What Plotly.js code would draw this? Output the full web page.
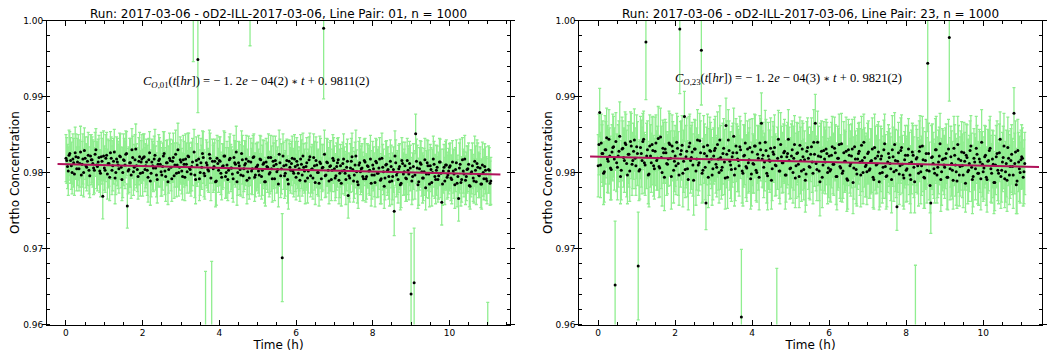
<!DOCTYPE html>
<html>
<head>
<meta charset="utf-8">
<script src="https://cdn.plot.ly/plotly-3.0.1.min.js"></script>
<style>html,body{margin:0;padding:0;background:#fff;}#chart{width:1048px;height:354px;}</style>
</head>
<body>
<div id="chart"></div>
<script>
// Measurement times (h), first set
const times = [
0,.04,.08,.12,.16,.2,.24,.28,.32,.36,.4,.44,.48,.52,.56,.6,.64,.68,.72,.76,.8,.84,.88,.92,.96,
1,1.04,1.08,1.12,1.16,1.2,1.24,1.28,1.32,1.36,1.4,1.44,1.48,1.52,1.56,1.6,1.64,1.68,1.72,1.76,1.8,1.84,1.88,1.92,1.96,
2,2.04,2.08,2.12,2.16,2.2,2.24,2.28,2.32,2.36,2.4,2.44,2.48,2.52,2.56,2.6,2.64,2.68,2.72,2.76,2.8,2.84,2.88,2.92,2.96,
3,3.04,3.08,3.12,3.16,3.2,3.24,3.28,3.32,3.36,3.4,3.44,3.48,3.52,3.56,3.6,3.64,3.68,3.72,3.76,3.8,3.84,3.88,3.92,3.96,
4,4.04,4.08,4.12,4.16,4.2,4.24,4.28,4.32,4.36,4.4,4.44,4.48,4.52,4.56,4.6,4.64,4.68,4.72,4.76,4.8,4.84,4.88,4.92,4.96,
5,5.04,5.08,5.12,5.16,5.2,5.24,5.28,5.32,5.36,5.4,5.44,5.48,5.52,5.56,5.6,5.64,5.68,5.72,5.76,5.8,5.84,5.88,5.92,5.96,
6,6.04,6.08,6.12,6.16,6.2,6.24,6.28,6.32,6.36,6.4,6.44,6.48,6.52,6.56,6.6,6.64,6.68,6.72,6.76,6.8,6.84,6.88,6.92,6.96,
7,7.04,7.08,7.12,7.16,7.2,7.24,7.28,7.32,7.36,7.4,7.44,7.48,7.52,7.56,7.6,7.64,7.68,7.72,7.76,7.8,7.84,7.88,7.92,7.96,
8,8.04,8.08,8.12,8.16,8.2,8.24,8.28,8.32,8.36,8.4,8.44,8.48,8.52,8.56,8.6,8.64,8.68,8.72,8.76,8.8,8.84,8.88,8.92,8.96,
9,9.04,9.08,9.12,9.16,9.2,9.24,9.28,9.32,9.36,9.4,9.44,9.48,9.52,9.56,9.6,9.64,9.68,9.72,9.76,9.8,9.84,9.88,9.92,9.96,
10,10.04,10.08,10.12,10.16,10.2,10.24,10.28,10.32,10.36,10.4,10.44,10.48,10.52,10.56,10.6,10.64,10.68,10.72,10.76,10.8,10.84,10.88,10.92,10.96,
11,11.04,11.08];
// Measurement times (h), interleaved set
const timesB = [
.02,.06,.1,.14,.18,.22,.26,.3,.34,.38,.42,.46,.5,.54,.58,.62,.66,.7,.74,.78,.82,.86,.9,.94,.98,
1.02,1.06,1.1,1.14,1.18,1.22,1.26,1.3,1.34,1.38,1.42,1.46,1.5,1.54,1.58,1.62,1.66,1.7,1.74,1.78,1.82,1.86,1.9,1.94,1.98,
2.02,2.06,2.1,2.14,2.18,2.22,2.26,2.3,2.34,2.38,2.42,2.46,2.5,2.54,2.58,2.62,2.66,2.7,2.74,2.78,2.82,2.86,2.9,2.94,2.98,
3.02,3.06,3.1,3.14,3.18,3.22,3.26,3.3,3.34,3.38,3.42,3.46,3.5,3.54,3.58,3.62,3.66,3.7,3.74,3.78,3.82,3.86,3.9,3.94,3.98,
4.02,4.06,4.1,4.14,4.18,4.22,4.26,4.3,4.34,4.38,4.42,4.46,4.5,4.54,4.58,4.62,4.66,4.7,4.74,4.78,4.82,4.86,4.9,4.94,4.98,
5.02,5.06,5.1,5.14,5.18,5.22,5.26,5.3,5.34,5.38,5.42,5.46,5.5,5.54,5.58,5.62,5.66,5.7,5.74,5.78,5.82,5.86,5.9,5.94,5.98,
6.02,6.06,6.1,6.14,6.18,6.22,6.26,6.3,6.34,6.38,6.42,6.46,6.5,6.54,6.58,6.62,6.66,6.7,6.74,6.78,6.82,6.86,6.9,6.94,6.98,
7.02,7.06,7.1,7.14,7.18,7.22,7.26,7.3,7.34,7.38,7.42,7.46,7.5,7.54,7.58,7.62,7.66,7.7,7.74,7.78,7.82,7.86,7.9,7.94,7.98,
8.02,8.06,8.1,8.14,8.18,8.22,8.26,8.3,8.34,8.38,8.42,8.46,8.5,8.54,8.58,8.62,8.66,8.7,8.74,8.78,8.82,8.86,8.9,8.94,8.98,
9.02,9.06,9.1,9.14,9.18,9.22,9.26,9.3,9.34,9.38,9.42,9.46,9.5,9.54,9.58,9.62,9.66,9.7,9.74,9.78,9.82,9.86,9.9,9.94,9.98,
10.02,10.06,10.1,10.14,10.18,10.22,10.26,10.3,10.34,10.38,10.42,10.46,10.5,10.54,10.58,10.62,10.66,10.7,10.74,10.78,10.82,10.86,10.9,10.94,10.98,
11.02,11.06];

// Line pair 01: ortho concentration and uncertainty, first set
const conc01 = [
.9819,.9808,.9823,.9816,.9800,.9813,.9826,.9805,.9820,.9812,.9797,.9818,.9829,.9809,.9815,.9803,.9822,.9817,.9806,.9824,.9810,.9814,.9802,.9821,.9769,
.9806,.9819,.9798,.9812,.9826,.9803,.9815,.9793,.9818,.9810,.9822,.9807,.9800,.9816,.9824,.9756,.9804,.9813,.9830,.9801,.9817,.9809,.9795,.9821,.9814,
.9800,.9821,.9809,.9803,.9817,.9789,.9814,.9806,.9823,.9797,.9811,.9818,.9801,.9808,.9825,.9795,.9813,.9804,.9816,.9792,.9820,.9810,.9799,.9830,.9807,
.9814,.9795,.9811,.9818,.9801,.9821,.9804,.9808,1.0018,.9797,.9816,.9949,.9792,.9813,.9825,.9799,.9580,.9810,.9802,.9819,.9595,.9805,.9815,.9789,.9812,
.9816,.9799,.9808,.9822,.9795,.9810,.9803,.9819,.9806,.9792,.9813,.9827,.9800,.9809,.9797,.9817,.9805,.9812,.9790,.9815,1.0030,.9802,.9820,.9794,.9807,
.9810,.9797,.9817,.9803,.9813,.9788,.9808,.9820,.9800,.9805,.9815,.9792,.9811,.9804,.9824,.9796,.9688,.9809,.9799,.9816,.9785,.9807,.9812,.9802,.9818,
.9794,.9810,.9805,.9818,.9797,.9807,.9789,.9813,.9802,.9821,.9804,.9793,.9809,.9816,.9800,.9786,.9812,.9806,.9990,.9796,.9814,.9803,.9808,.9791,.9819,
.9805,.9796,.9813,.9790,.9809,.9802,.9818,.9799,.9807,.9770,.9793,.9815,.9804,.9797,.9822,.9788,.9810,.9801,.9806,.9792,.9814,.9795,.9808,.9803,.9786,
.9810,.9797,.9815,.9799,.9806,.9790,.9819,.9801,.9793,.9811,.9804,.9788,.9808,.9795,.9749,.9813,.9800,.9805,.9784,.9816,.9798,.9809,.9792,.9803,.9812,
.9640,.9795,.9655,.9851,.9806,.9788,.9813,.9801,.9793,.9817,.9798,.9809,.9785,.9804,.9800,.9811,.9791,.9807,.9796,.9814,.9761,.9802,.9789,.9810,.9797,
.9807,.9793,.9814,.9798,.9804,.9786,.9766,.9811,.9791,.9802,.9818,.9795,.9805,.9783,.9799,.9809,.9789,.9803,.9812,.9797,.9806,.9785,.9800,.9808,.9792,
.9560,.9803,.9789];
const err01 = [
.0031,.0029,.0033,.0030,.0028,.0032,.0034,.0029,.0030,.0031,.0027,.0033,.0030,.0029,.0032,.0031,.0028,.0030,.0035,.0029,.0031,.0030,.0028,.0032,.0030,
.0029,.0031,.0033,.0030,.0028,.0032,.0030,.0034,.0029,.0031,.0030,.0027,.0033,.0029,.0031,.0029,.0030,.0032,.0028,.0031,.0033,.0029,.0030,.0032,.0028,
.0031,.0030,.0029,.0033,.0028,.0032,.0030,.0031,.0034,.0029,.0030,.0028,.0032,.0031,.0029,.0033,.0030,.0031,.0028,.0030,.0032,.0029,.0031,.0035,.0030,
.0029,.0031,.0030,.0033,.0028,.0031,.0029,.0032,.0072,.0030,.0031,.0070,.0029,.0032,.0030,.0031,.0090,.0030,.0028,.0033,.0088,.0031,.0029,.0032,.0030,
.0031,.0028,.0030,.0033,.0029,.0031,.0030,.0032,.0028,.0031,.0029,.0034,.0030,.0031,.0028,.0032,.0030,.0029,.0031,.0033,.0063,.0030,.0029,.0032,.0031,
.0030,.0028,.0031,.0033,.0029,.0032,.0030,.0031,.0028,.0030,.0033,.0029,.0031,.0030,.0032,.0029,.0058,.0031,.0030,.0028,.0033,.0031,.0029,.0030,.0032,
.0030,.0031,.0029,.0032,.0028,.0031,.0030,.0033,.0029,.0031,.0030,.0028,.0032,.0031,.0029,.0030,.0033,.0031,.0093,.0029,.0031,.0030,.0032,.0028,.0031,
.0030,.0029,.0032,.0031,.0028,.0030,.0033,.0029,.0031,.0030,.0032,.0030,.0029,.0031,.0034,.0028,.0031,.0030,.0032,.0029,.0031,.0030,.0028,.0033,.0030,
.0031,.0029,.0030,.0032,.0028,.0031,.0033,.0030,.0029,.0031,.0030,.0032,.0028,.0031,.0032,.0030,.0029,.0031,.0033,.0030,.0028,.0031,.0030,.0032,.0029,
.0080,.0031,.0072,.0026,.0030,.0031,.0029,.0032,.0030,.0028,.0031,.0033,.0030,.0029,.0031,.0030,.0032,.0028,.0031,.0030,.0030,.0029,.0031,.0033,.0030,
.0031,.0030,.0028,.0032,.0029,.0031,.0030,.0033,.0030,.0029,.0031,.0032,.0030,.0028,.0031,.0030,.0029,.0032,.0031,.0030,.0028,.0033,.0031,.0030,.0029,
.0069,.0030,.0031];
// Line pair 01, interleaved set
const conc01B = [
.9816,.9802,.9825,.9809,.9818,.9798,.9821,.9814,.9805,.9827,.9811,.9800,.9819,.9807,.9823,.9796,.9817,.9812,.9803,.9830,.9808,.9820,.9799,.9815,.9822,
.9803,.9823,.9812,.9794,.9819,.9809,.9827,.9800,.9814,.9805,.9821,.9791,.9817,.9810,.9825,.9802,.9813,.9797,.9820,.9807,.9831,.9804,.9815,.9799,.9818,
.9820,.9804,.9814,.9794,.9826,.9799,.9809,.9818,.9806,.9791,.9816,.9811,.9797,.9822,.9802,.9813,.9788,.9819,.9807,.9815,.9796,.9824,.9810,.9800,.9817,
.9802,.9817,.9794,.9811,.9822,.9806,.9798,.9814,.9827,.9791,.9810,.9818,.9800,.9807,.9820,.9796,.9813,.9804,.9824,.9793,.9815,.9808,.9788,.9819,.9803,
.9815,.9794,.9809,.9822,.9800,.9791,.9817,.9806,.9798,.9820,.9811,.9788,.9813,.9804,.9825,.9796,.9810,.9818,.9801,.9793,.9814,.9805,.9821,.9797,.9808,
.9802,.9818,.9795,.9811,.9788,.9814,.9807,.9798,.9820,.9792,.9809,.9816,.9801,.9785,.9813,.9805,.9822,.9796,.9810,.9791,.9815,.9803,.9819,.9799,.9808,
.9815,.9799,.9790,.9811,.9822,.9802,.9808,.9793,.9817,.9796,.9805,.9820,.9787,.9810,.9800,.9814,.9792,.9807,.9824,.9797,.9813,.9789,.9809,.9803,.9816,
.9793,.9808,.9817,.9799,.9786,.9812,.9803,.9791,.9815,.9796,.9806,.9821,.9789,.9810,.9801,.9784,.9813,.9805,.9795,.9816,.9792,.9809,.9802,.9818,.9797,
.9805,.9787,.9813,.9799,.9818,.9792,.9807,.9782,.9810,.9802,.9795,.9815,.9789,.9804,.9822,.9797,.9791,.9808,.9786,.9812,.9801,.9793,.9816,.9798,.9806,
.9789,.9808,.9797,.9815,.9784,.9805,.9811,.9793,.9801,.9780,.9813,.9798,.9809,.9787,.9818,.9795,.9803,.9791,.9814,.9799,.9785,.9807,.9810,.9794,.9802,
.9809,.9791,.9802,.9784,.9813,.9795,.9806,.9787,.9817,.9798,.9790,.9804,.9811,.9782,.9801,.9793,.9815,.9788,.9807,.9796,.9785,.9810,.9792,.9803,.9789,
.9804,.9786];
const err01B = [
.0030,.0032,.0029,.0031,.0033,.0028,.0030,.0031,.0029,.0034,.0030,.0032,.0028,.0031,.0030,.0029,.0033,.0031,.0030,.0028,.0032,.0029,.0031,.0030,.0033,
.0029,.0030,.0032,.0031,.0028,.0033,.0030,.0029,.0031,.0032,.0030,.0028,.0034,.0031,.0029,.0030,.0032,.0031,.0028,.0030,.0033,.0029,.0031,.0030,.0032,
.0031,.0029,.0030,.0033,.0028,.0031,.0032,.0030,.0029,.0031,.0034,.0030,.0028,.0032,.0031,.0029,.0030,.0033,.0031,.0028,.0030,.0032,.0029,.0031,.0030,
.0030,.0032,.0031,.0028,.0030,.0033,.0029,.0031,.0030,.0032,.0028,.0031,.0030,.0029,.0034,.0031,.0030,.0028,.0032,.0030,.0029,.0031,.0033,.0030,.0029,
.0032,.0030,.0029,.0031,.0033,.0028,.0030,.0031,.0032,.0029,.0030,.0031,.0028,.0033,.0030,.0029,.0032,.0031,.0030,.0028,.0031,.0034,.0030,.0029,.0031,
.0029,.0031,.0030,.0032,.0028,.0031,.0033,.0030,.0029,.0031,.0030,.0032,.0028,.0030,.0031,.0033,.0029,.0030,.0032,.0031,.0028,.0030,.0029,.0031,.0033,
.0031,.0030,.0028,.0032,.0030,.0029,.0031,.0033,.0030,.0028,.0032,.0031,.0029,.0030,.0031,.0034,.0028,.0030,.0032,.0029,.0031,.0030,.0033,.0028,.0030,
.0030,.0031,.0029,.0032,.0030,.0028,.0031,.0033,.0029,.0030,.0032,.0031,.0028,.0030,.0029,.0031,.0033,.0030,.0032,.0028,.0031,.0029,.0030,.0031,.0032,
.0029,.0032,.0030,.0031,.0028,.0033,.0030,.0029,.0031,.0032,.0030,.0028,.0031,.0030,.0033,.0029,.0031,.0030,.0032,.0028,.0030,.0031,.0029,.0034,.0030,
.0031,.0030,.0032,.0029,.0031,.0028,.0030,.0033,.0031,.0029,.0030,.0032,.0028,.0031,.0030,.0029,.0033,.0030,.0031,.0032,.0028,.0030,.0031,.0029,.0030,
.0030,.0032,.0029,.0031,.0030,.0028,.0033,.0031,.0029,.0030,.0032,.0031,.0028,.0030,.0029,.0031,.0033,.0030,.0032,.0029,.0031,.0030,.0028,.0031,.0030,
.0031,.0029];

// Line pair 23, first set
const conc23 = [
.9809,.9879,.9839,.9825,.9801,.9830,.9818,.9844,.9806,.9827,.9834,.9652,.9813,.9822,.9848,.9803,.9832,.9816,.9837,.9797,.9824,.9841,.9811,.9828,.9819,
.9834,.9677,.9804,.9825,.9841,.9813,.9972,.9830,.9798,.9822,.9837,.9809,.9828,.9816,.9845,.9806,.9820,.9832,.9794,.9826,.9811,.9839,.9819,.9835,.9803,
.9822,.9840,.9812,.9989,.9829,.9799,.9874,.9821,.9805,.9834,.9816,.9827,.9790,.9831,.9818,.9810,.9842,.9961,.9803,.9825,.9760,.9836,.9814,.9828,.9797,
.9822,.9832,.9807,.9818,.9843,.9803,.9825,.9814,.9862,.9794,.9829,.9810,.9821,.9848,.9805,.9826,.9816,.9834,.9610,.9799,.9823,.9808,.9831,.9817,.9792,
.9827,.9811,.9835,.9800,.9819,.9839,.9865,.9823,.9814,.9829,.9796,.9817,.9832,.9805,.9824,.9810,.9595,.9844,.9802,.9821,.9813,.9828,.9797,.9825,.9816,
.9806,.9830,.9819,.9793,.9825,.9811,.9836,.9802,.9821,.9817,.9798,.9833,.9808,.9824,.9814,.9840,.9865,.9804,.9822,.9788,.9828,.9810,.9818,.9831,.9800,
.9822,.9804,.9834,.9811,.9826,.9795,.9819,.9808,.9838,.9802,.9815,.9828,.9790,.9823,.9812,.9831,.9806,.9818,.9798,.9825,.9814,.9836,.9800,.9820,.9810,
.9825,.9803,.9815,.9831,.9791,.9819,.9811,.9827,.9799,.9822,.9807,.9838,.9795,.9814,.9820,.9805,.9830,.9801,.9816,.9755,.9826,.9809,.9833,.9797,.9817,
.9803,.9823,.9812,.9791,.9827,.9807,.9590,.9820,.9799,.9834,.9809,.9817,.9793,.9825,.9944,.9802,.9760,.9821,.9805,.9830,.9797,.9814,.9838,.9801,.9818,
.9807,.9825,.9794,.9978,.9821,.9803,.9832,.9810,.9789,.9818,.9808,.9827,.9797,.9815,.9823,.9801,.9812,.9835,.9791,.9819,.9805,.9824,.9799,.9814,.9840,
.9801,.9821,.9794,.9815,.9829,.9805,.9818,.9787,.9810,.9825,.9799,.9844,.9803,.9820,.9792,.9812,.9833,.9797,.9816,.9808,.9878,.9827,.9789,.9814,.9800,
.9821,.9794,.9812];
const err23 = [
.0041,.0032,.0038,.0043,.0040,.0037,.0044,.0039,.0042,.0036,.0040,.0084,.0038,.0041,.0045,.0039,.0036,.0042,.0040,.0038,.0043,.0039,.0041,.0037,.0040,
.0042,.0071,.0039,.0044,.0037,.0040,.0076,.0038,.0043,.0041,.0036,.0040,.0045,.0039,.0042,.0038,.0041,.0037,.0044,.0040,.0039,.0042,.0036,.0041,.0043,
.0040,.0038,.0042,.0085,.0039,.0044,.0033,.0041,.0037,.0040,.0043,.0039,.0046,.0038,.0041,.0040,.0036,.0072,.0042,.0039,.0035,.0041,.0044,.0038,.0040,
.0037,.0042,.0039,.0041,.0045,.0038,.0040,.0043,.0036,.0041,.0039,.0044,.0040,.0037,.0042,.0038,.0041,.0040,.0089,.0043,.0039,.0041,.0037,.0042,.0040,
.0044,.0038,.0041,.0039,.0042,.0036,.0040,.0043,.0038,.0041,.0045,.0039,.0040,.0042,.0037,.0041,.0079,.0038,.0043,.0040,.0039,.0042,.0036,.0041,.0044,
.0040,.0038,.0042,.0039,.0041,.0043,.0037,.0040,.0044,.0038,.0041,.0039,.0042,.0036,.0040,.0043,.0038,.0041,.0039,.0045,.0040,.0037,.0042,.0039,.0041,
.0038,.0043,.0040,.0041,.0037,.0044,.0039,.0042,.0040,.0036,.0041,.0045,.0038,.0040,.0043,.0039,.0041,.0037,.0042,.0040,.0044,.0038,.0041,.0039,.0042,
.0040,.0037,.0043,.0041,.0039,.0042,.0038,.0040,.0044,.0036,.0041,.0039,.0043,.0040,.0038,.0042,.0045,.0039,.0041,.0031,.0040,.0038,.0043,.0041,.0037,
.0042,.0039,.0041,.0044,.0038,.0040,.0088,.0037,.0043,.0041,.0039,.0042,.0040,.0045,.0090,.0038,.0040,.0043,.0039,.0041,.0037,.0042,.0040,.0044,.0038,
.0041,.0039,.0043,.0084,.0040,.0038,.0042,.0041,.0036,.0044,.0039,.0040,.0043,.0038,.0041,.0042,.0037,.0040,.0045,.0039,.0041,.0038,.0042,.0040,.0043,
.0039,.0041,.0037,.0042,.0040,.0044,.0038,.0041,.0039,.0043,.0040,.0036,.0042,.0041,.0038,.0044,.0040,.0039,.0042,.0037,.0034,.0041,.0043,.0039,.0040,
.0042,.0038,.0041];
// Line pair 23, interleaved set
const conc23B = [
.9837,.9810,.9825,.9799,.9830,.9846,.9815,.9822,.9804,.9833,.9818,.9841,.9807,.9828,.9795,.9831,.9820,.9839,.9812,.9824,.9802,.9835,.9816,.9843,.9809,
.9825,.9802,.9833,.9816,.9844,.9810,.9822,.9797,.9835,.9813,.9829,.9805,.9839,.9819,.9808,.9847,.9800,.9826,.9831,.9812,.9818,.9837,.9795,.9828,.9815,
.9809,.9832,.9797,.9824,.9836,.9815,.9804,.9828,.9791,.9839,.9820,.9810,.9831,.9802,.9843,.9813,.9826,.9799,.9834,.9807,.9822,.9794,.9829,.9818,.9805,
.9829,.9811,.9837,.9800,.9820,.9807,.9832,.9793,.9824,.9843,.9815,.9804,.9826,.9797,.9835,.9818,.9809,.9830,.9802,.9822,.9839,.9806,.9813,.9833,.9798,
.9812,.9835,.9803,.9824,.9794,.9830,.9818,.9807,.9840,.9799,.9822,.9815,.9790,.9827,.9833,.9809,.9819,.9802,.9837,.9813,.9826,.9797,.9821,.9844,.9805,
.9822,.9800,.9837,.9809,.9826,.9795,.9816,.9831,.9804,.9790,.9828,.9819,.9807,.9834,.9799,.9824,.9812,.9840,.9802,.9821,.9794,.9829,.9814,.9825,.9806,
.9802,.9823,.9811,.9832,.9795,.9819,.9837,.9806,.9799,.9826,.9815,.9792,.9830,.9809,.9822,.9787,.9834,.9804,.9818,.9828,.9797,.9816,.9840,.9808,.9801,
.9827,.9805,.9816,.9794,.9833,.9810,.9822,.9788,.9818,.9800,.9830,.9808,.9796,.9825,.9812,.9791,.9821,.9837,.9803,.9815,.9798,.9829,.9811,.9793,.9823,
.9805,.9831,.9797,.9814,.9823,.9788,.9818,.9809,.9828,.9801,.9835,.9794,.9816,.9803,.9825,.9783,.9820,.9812,.9799,.9830,.9807,.9822,.9791,.9817,.9810,
.9819,.9794,.9831,.9805,.9812,.9790,.9823,.9801,.9837,.9797,.9816,.9809,.9826,.9786,.9820,.9803,.9829,.9807,.9795,.9814,.9832,.9799,.9818,.9792,.9811,
.9806,.9823,.9791,.9816,.9832,.9799,.9811,.9787,.9821,.9803,.9826,.9795,.9814,.9835,.9801,.9790,.9819,.9808,.9824,.9797,.9812,.9784,.9829,.9805,.9817,
.9819,.9801];
const err23B = [
.0040,.0043,.0038,.0041,.0045,.0039,.0042,.0037,.0040,.0044,.0041,.0038,.0043,.0040,.0036,.0042,.0039,.0041,.0044,.0038,.0040,.0043,.0037,.0041,.0039,
.0042,.0039,.0041,.0044,.0037,.0040,.0043,.0038,.0041,.0039,.0045,.0040,.0037,.0042,.0041,.0038,.0044,.0040,.0039,.0042,.0036,.0041,.0043,.0039,.0040,
.0038,.0042,.0040,.0043,.0039,.0041,.0037,.0044,.0040,.0038,.0042,.0041,.0039,.0045,.0040,.0037,.0042,.0039,.0041,.0043,.0038,.0040,.0044,.0039,.0041,
.0041,.0038,.0043,.0040,.0042,.0037,.0039,.0041,.0044,.0040,.0038,.0042,.0039,.0041,.0036,.0043,.0040,.0038,.0042,.0041,.0039,.0044,.0040,.0037,.0042,
.0039,.0042,.0040,.0038,.0043,.0041,.0037,.0040,.0042,.0039,.0044,.0041,.0038,.0040,.0043,.0039,.0041,.0036,.0042,.0040,.0038,.0045,.0041,.0039,.0040,
.0042,.0040,.0038,.0043,.0039,.0041,.0044,.0037,.0040,.0042,.0039,.0041,.0043,.0038,.0040,.0042,.0036,.0041,.0039,.0044,.0040,.0038,.0042,.0041,.0039,
.0040,.0043,.0039,.0041,.0037,.0042,.0040,.0044,.0038,.0041,.0039,.0043,.0040,.0036,.0042,.0041,.0039,.0045,.0040,.0038,.0042,.0041,.0037,.0040,.0043,
.0041,.0039,.0042,.0040,.0044,.0038,.0041,.0037,.0043,.0040,.0039,.0042,.0041,.0038,.0040,.0044,.0039,.0042,.0036,.0041,.0040,.0043,.0038,.0041,.0039,
.0043,.0040,.0038,.0042,.0039,.0041,.0044,.0037,.0040,.0042,.0039,.0041,.0038,.0043,.0040,.0036,.0042,.0041,.0039,.0044,.0040,.0038,.0042,.0041,.0039,
.0040,.0042,.0039,.0041,.0043,.0038,.0040,.0044,.0037,.0041,.0039,.0042,.0040,.0038,.0043,.0041,.0039,.0045,.0040,.0037,.0042,.0040,.0039,.0041,.0043,
.0041,.0038,.0043,.0040,.0042,.0039,.0044,.0037,.0041,.0040,.0038,.0042,.0039,.0043,.0040,.0041,.0036,.0042,.0039,.0044,.0040,.0038,.0041,.0043,.0039,
.0040,.0042];

// Linear fits shown on the chart: C(t) = slope * t + intercept
const fit01 = {slope: -1.2e-4, intercept: 0.9811, tStart: -0.22, tEnd: 11.33};
const fit23 = {slope: -1.2e-4, intercept: 0.9821, tStart: -0.21, tEnd: 11.45};

const titles = [
  'Run: 2017-03-06 - oD2-ILL-2017-03-06, Line Pair: 01, n = 1000',
  'Run: 2017-03-06 - oD2-ILL-2017-03-06, Line Pair: 23, n = 1000'
];
const AST = '<span style="font-family:\'DejaVu Serif\';font-size:10px">∗</span>';
const equations = [
  '<i>C</i><sub><i>O</i>,01</sub>(<i>t</i>[<i>hr</i>]) = − 1. 2<i>e</i> − 04(2) ' + AST + ' <i>t</i> + 0. 9811(2)',
  '<i>C</i><sub><i>O</i>,23</sub>(<i>t</i>[<i>hr</i>]) = − 1. 2<i>e</i> − 04(3) ' + AST + ' <i>t</i> + 0. 9821(2)'
];

const GREEN = '#90ee90';
const FITC = '#b0125a';
const FONT = 'DejaVu Sans, sans-serif';

function dataTrace(y, e, yB, eB, xa, ya) {
  return {
    type: 'scatter', mode: 'markers', x: times.concat(timesB), y: y.concat(yB), xaxis: xa, yaxis: ya,
    marker: {color: 'black', size: 3},
    error_y: {type: 'data', array: e.concat(eB), visible: true, color: GREEN, thickness: 1.3, width: 1.5},
    showlegend: false
  };
}
function fitTrace(f, xa, ya) {
  const xs = [f.tStart, f.tEnd];
  return {
    type: 'scatter', mode: 'lines', x: xs, y: xs.map(t => f.slope * t + f.intercept),
    xaxis: xa, yaxis: ya, line: {color: FITC, width: 2}, showlegend: false
  };
}

const W = 1048, H = 354;
function xAxis(d, r, anchor) {
  return {
    domain: d, range: r, anchor: anchor,
    showline: true, linecolor: 'black', linewidth: 1, mirror: 'allticks',
    ticks: 'inside', ticklen: 5, tickwidth: 1, tickcolor: 'black',
    tick0: 0, dtick: 2, showgrid: false, zeroline: false,
    tickfont: {family: FONT, size: 9, color: 'black'},
    minor: {tick0: 0, dtick: 0.5, ticks: 'inside', ticklen: 3, tickcolor: 'black', showgrid: false},
    title: {text: 'Time (h)', font: {family: FONT, size: 12, color: 'black'}, standoff: 0}
  };
}
function yAxis(d, anchor) {
  return {
    domain: d, range: [0.96, 1.0], anchor: anchor,
    showline: true, linecolor: 'black', linewidth: 1, mirror: 'allticks',
    ticks: 'outside', ticklen: 4, tickwidth: 1, tickcolor: 'black',
    tick0: 0.96, dtick: 0.01, tickformat: '.2f', showgrid: false, zeroline: false,
    ticklabelstandoff: -3,
    tickfont: {family: FONT, size: 9, color: 'black'},
    minor: {tick0: 0.96, dtick: 0.002, ticks: 'inside', ticklen: 3, tickcolor: 'black', showgrid: false},
    title: {text: 'Ortho Concentration', font: {family: FONT, size: 12, color: 'black'}, standoff: 0}
  };
}

const yDom = [(H - 324.5) / H, (H - 20.7) / H];
const layout = {
  width: W, height: H,
  margin: {l: 0, r: 0, t: 0, b: 0},
  paper_bgcolor: 'white', plot_bgcolor: 'white',
  xaxis: xAxis([47 / W, 510 / W], [-0.495, 11.58], 'y'),
  yaxis: yAxis(yDom, 'x'),
  xaxis2: xAxis([579.3 / W, 1041.7 / W], [-0.49, 11.52], 'y2'),
  yaxis2: yAxis(yDom, 'x2'),
  annotations: [
    {text: titles[0], xref: 'paper', yref: 'paper', x: 278.5 / W, y: 1 - 13.5 / H, xanchor: 'center', yanchor: 'middle', showarrow: false, font: {family: FONT, size: 12, color: 'black'}},
    {text: titles[1], xref: 'paper', yref: 'paper', x: 810.5 / W, y: 1 - 13.5 / H, xanchor: 'center', yanchor: 'middle', showarrow: false, font: {family: FONT, size: 12, color: 'black'}},
    {text: equations[0], xref: 'paper', yref: 'paper', x: 256 / W, y: 1 - 81.7 / H, xanchor: 'center', yanchor: 'middle', showarrow: false, font: {family: 'Liberation Serif, serif', size: 12.5, color: 'black'}},
    {text: equations[1], xref: 'paper', yref: 'paper', x: 788.3 / W, y: 1 - 79 / H, xanchor: 'center', yanchor: 'middle', showarrow: false, font: {family: 'Liberation Serif, serif', size: 12.5, color: 'black'}}
  ]
};

const data = [
  dataTrace(conc01, err01, conc01B, err01B, 'x', 'y'),
  fitTrace(fit01, 'x', 'y'),
  dataTrace(conc23, err23, conc23B, err23B, 'x2', 'y2'),
  fitTrace(fit23, 'x2', 'y2')
];
Plotly.newPlot('chart', data, layout, {displayModeBar: false, staticPlot: true});
</script>
</body>
</html>
